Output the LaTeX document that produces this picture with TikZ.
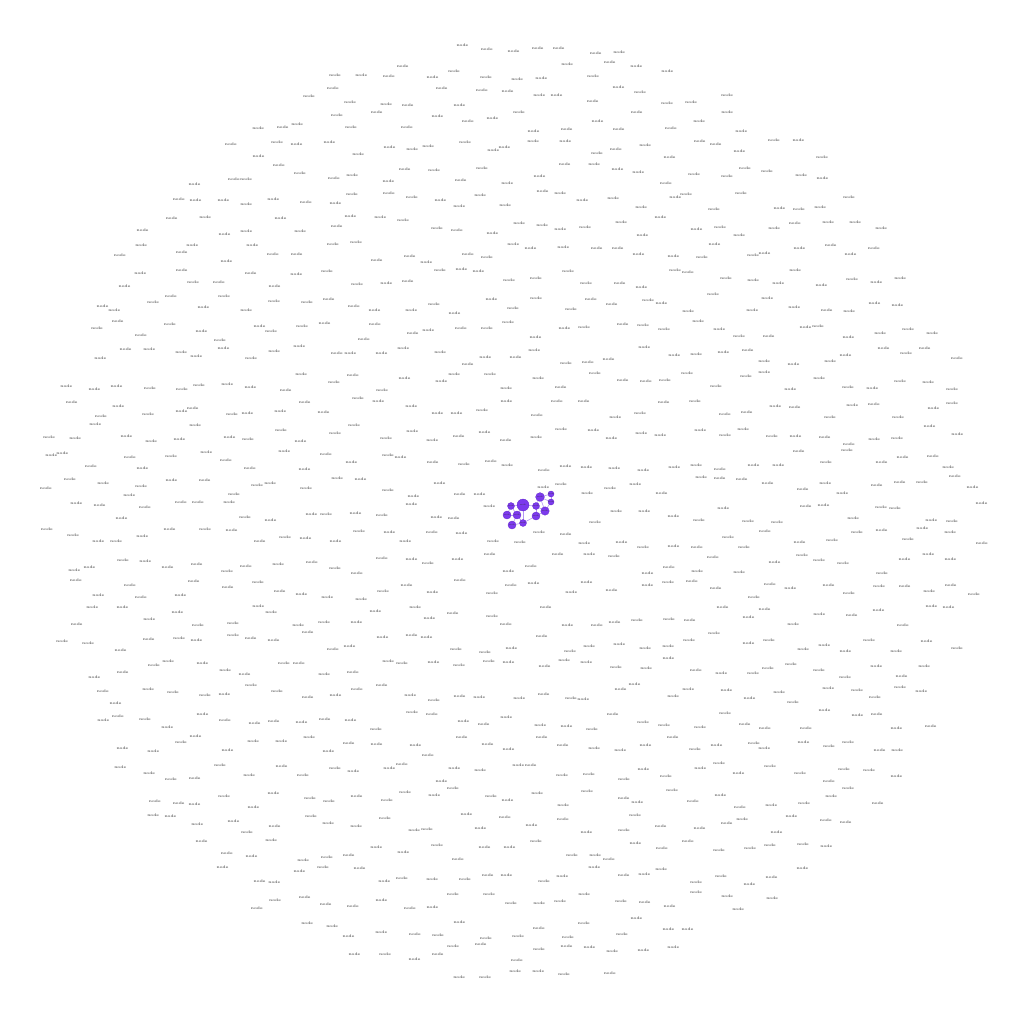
\documentclass[tikz,border=0pt]{standalone}
\definecolor{pv}{RGB}{124,58,237}
\definecolor{pvd}{RGB}{95,35,200}
\definecolor{pve}{RGB}{180,150,245}
\begin{document}
\begin{tikzpicture}[x=0.02cm,y=-0.02cm,
  gnode/.style={inner sep=0.2pt,text=black!65,font=\fontsize{2.1}{2.3}\selectfont\bfseries},
  pnode/.style={circle,fill=pv,draw=pvd,line width=0.15pt,inner sep=0pt,text=black!80,font=\fontsize{1.2}{1.4}\selectfont},
  pedge/.style={draw=pve,line width=0.35pt}]
\useasboundingbox (0,0) rectangle (1024,1024);
\fill[white] (0,0) rectangle (1024,1024);
\pgfmathsetseed{11}
\foreach \i in {-18,...,18}{
  \foreach \j in {-18,...,18}{
    \pgfmathsetmacro\px{\i*26+rand*8}
    \pgfmathsetmacro\py{\j*26+rand*10}
    \pgfmathsetmacro\rr{veclen(\px,\py)}
    \pgfmathsetmacro\cx{512+\px}
    \pgfmathsetmacro\cy{512+\py}
    \ifdim\rr pt<472pt
      \ifdim\cx pt>498pt \ifdim\cx pt<558pt \ifdim\cy pt>488pt \ifdim\cy pt<530pt
        \relax
      \else \node[gnode] (g\i-\j) at (\cx,\cy) {node}; \fi
      \else \node[gnode] (g\i-\j) at (\cx,\cy) {node}; \fi
      \else \node[gnode] (g\i-\j) at (\cx,\cy) {node}; \fi
      \else \node[gnode] (g\i-\j) at (\cx,\cy) {node}; \fi
    \fi
  }
}
% purple cluster
\path
  (523,505) coordinate (pa)
  (511,506) coordinate (pb)
  (536,506) coordinate (pc)
  (540,497) coordinate (pd)
  (551,494) coordinate (pe)
  (551,502) coordinate (pf)
  (545,511) coordinate (pg)
  (507,515) coordinate (ph)
  (517,515) coordinate (pi)
  (536,516) coordinate (pj)
  (523,523) coordinate (pk)
  (512,525) coordinate (pl);
\foreach \a/\b in {pa/pb,pa/pc,pa/pi,pa/pk,pd/pc,pd/pe,pe/pf,pf/pg,pc/pg,pj/pg,ph/pi,pi/pl,pi/pk,pk/pj,pl/pk,pb/ph,pd/pg,pc/pj,pb/pi,pd/pf}
  \draw[pedge] (\a) -- (\b);
\node[pnode,minimum size=6.8pt] (na) at (pa) {node};
\node[pnode,minimum size=4pt] (nb) at (pb) {node};
\node[pnode,minimum size=4pt] (nc) at (pc) {node};
\node[pnode,minimum size=5pt] (nd) at (pd) {node};
\node[pnode,minimum size=3.4pt] (ne) at (pe) {node};
\node[pnode,minimum size=3.4pt] (nf) at (pf) {node};
\node[pnode,minimum size=4.8pt] (ng) at (pg) {node};
\node[pnode,minimum size=4.6pt] (nh) at (ph) {node};
\node[pnode,minimum size=4.6pt] (ni) at (pi) {node};
\node[pnode,minimum size=4.6pt] (nj) at (pj) {node};
\node[pnode,minimum size=4pt] (nk) at (pk) {node};
\node[pnode,minimum size=4.6pt] (nl) at (pl) {node};
\end{tikzpicture}
\end{document}
